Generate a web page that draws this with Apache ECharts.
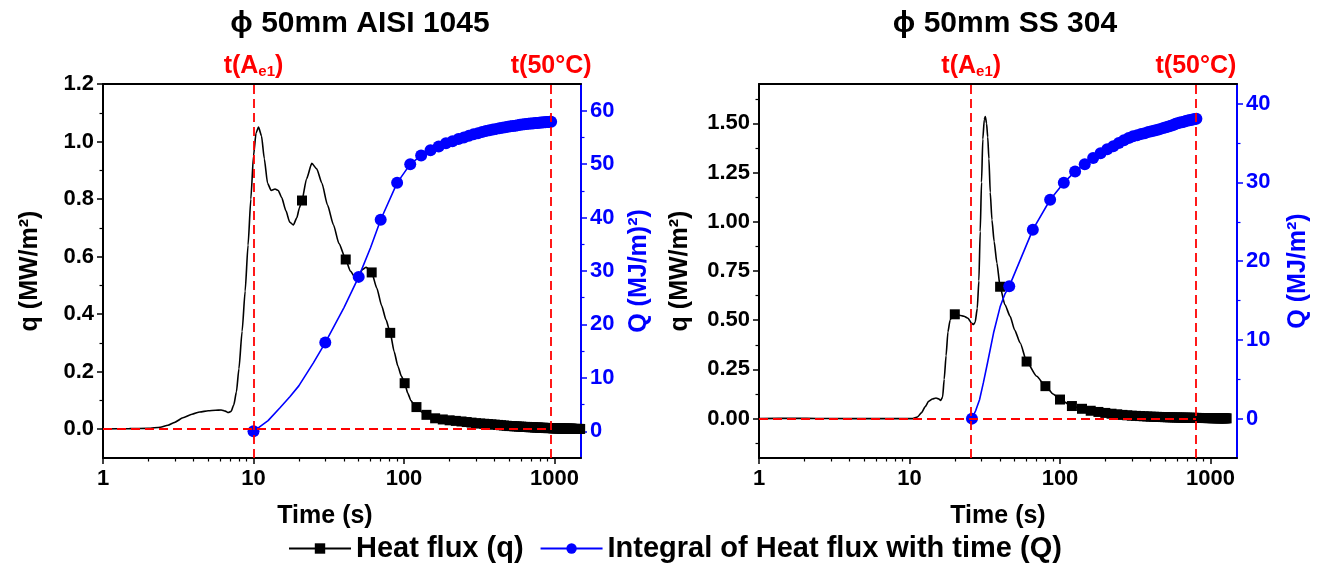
<!DOCTYPE html>
<html><head><meta charset="utf-8">
<script src="https://cdn.jsdelivr.net/npm/echarts@6/dist/echarts.min.js"></script>
<style>html,body{margin:0;padding:0;background:#fff}#c{width:1327px;height:567px}</style>
</head><body><div id="c"></div>
<script>
const FONT = 'Liberation Sans, Arial, Helvetica, sans-serif';
const titles = ['\u03d5 50mm AISI 1045', '\u03d5 50mm SS 304'];
const seriesNames = ['Heat flux (q)', 'Integral of Heat flux with time (Q)'];
const xName = 'Time (s)';
const qNames = ['q (MW/m\u00b2)', 'q (MW/m\u00b2)'];
const QNames = ['Q (MJ/m)\u00b2)', 'Q (MJ/m\u00b2)'];
const xMajorTicks = [1, 10, 100, 1000];
const xMinorTicks = [2,3,4,5,6,7,8,9,20,30,40,50,60,70,80,90,200,300,400,500,600,700,800,900];

// left chart axes
const leftQTicks = [0, 0.2, 0.4, 0.6, 0.8, 1.0, 1.2];
const leftQMinor = [0.1, 0.3, 0.5, 0.7, 0.9, 1.1];
const leftBigQTicks = [0, 10, 20, 30, 40, 50, 60];
const leftBigQMinor = [5, 15, 25, 35, 45, 55];
// right chart axes
const rightQTicks = [0, 0.25, 0.5, 0.75, 1.0, 1.25, 1.5];
const rightQMinor = [-0.125, 0.125, 0.375, 0.625, 0.875, 1.125, 1.375, 1.625];
const rightBigQTicks = [0, 10, 20, 30, 40];
const rightBigQMinor = [5, 15, 25, 35];

// event times (s)
const leftTAe1 = 10, leftT50 = 950;
const rightTAe1 = 25.7, rightT50 = 800;

// ---- LEFT: AISI 1045 ----
const leftFluxCurve = [
 [1,0.001],[1.5,0.002],[2,0.003],[2.4,0.007],[2.7,0.014],[3.0,0.024],[3.4,0.04],[3.9,0.052],[4.4,0.06],
 [5.0,0.064],[5.6,0.066],[6.1,0.067],[6.5,0.063],[6.8,0.058],[7.1,0.062],[7.4,0.085],[7.7,0.13],[8.0,0.21],
 [8.4,0.34],[8.8,0.48],[9.2,0.64],[9.6,0.8],[10.0,0.95],[10.4,1.03],[10.8,1.05],[11.3,1.02],[11.8,0.94],
 [12.4,0.855],[13.1,0.83],[13.9,0.835],[14.6,0.83],[15.4,0.805],[16.4,0.76],[17.4,0.72],[18.4,0.71],
 [19.4,0.735],[20.2,0.77],[22.5,0.87],[24.4,0.924],[26.3,0.905],[28.5,0.855],[31,0.78],[34,0.71],[37,0.645],
 [44,0.55],[47,0.53],[50,0.535],[53,0.555],[56,0.563],[58.5,0.555],[66,0.49],[71,0.43],[76,0.38],
 [86,0.27],[91,0.22],[96,0.185],[106,0.125],[111,0.1],[116,0.088],[131,0.06]
];
const leftFluxMarks = [
 [21,0.795],[41,0.59],[61,0.545],[81,0.335],[101,0.16],[121,0.077],[141,0.05],[161,0.038],[181,0.034],[201,0.031],
 [221,0.029],[241,0.027],[261,0.025],[281,0.023],[301,0.021],[321,0.020],[341,0.019],[361,0.018],[381,0.017],[401,0.016],
 [421,0.015],[441,0.014],[461,0.013],[481,0.012],[501,0.011],[521,0.011],[541,0.010],[561,0.010],[581,0.009],[601,0.009],
 [621,0.008],[641,0.008],[661,0.008],[681,0.007],[701,0.007],[721,0.007],[741,0.006],[761,0.006],[781,0.006],[801,0.005],
 [821,0.005],[841,0.005],[861,0.005],[881,0.004],[901,0.004],[921,0.004],[941,0.004],[961,0.004],[981,0.003],[1001,0.003],
 [1021,0.003],[1041,0.003],[1061,0.003],[1081,0.003],[1101,0.003],[1121,0.002],[1141,0.002],[1161,0.002],[1181,0.002],[1201,0.002],
 [1221,0.002],[1241,0.002],[1261,0.002],[1281,0.002],[1301,0.002],[1321,0.001],[1341,0.001],[1361,0.001],[1381,0.001],[1401,0.001],
 [1421,0.001],[1441,0.001],[1461,0.001],[1481,0.001]
];
const leftIntCurve = [[12.5,2.0],[15,4.4],[17.5,6.5],[20,8.5],[25,12.8],[40,23.2],[60,34.4]];
const leftIntMarks = [
 [10,0],[30,16.6],[50,28.9],[70,39.6],[90,46.5],[110,50.0],[130,51.6],[150,52.6],[170,53.3],[190,53.9],
 [210,54.3],[230,54.7],[250,55.0],[270,55.3],[290,55.6],[310,55.8],[330,56.0],[350,56.2],[370,56.35],[390,56.5],
 [410,56.6],[430,56.7],[450,56.8],[470,56.9],[490,57.0],[510,57.1],[530,57.15],[550,57.2],[570,57.3],[590,57.35],
 [610,57.4],[630,57.45],[650,57.5],[670,57.55],[690,57.6],[710,57.62],[730,57.65],[750,57.7],[770,57.72],[790,57.75],
 [810,57.78],[830,57.8],[850,57.83],[870,57.85],[890,57.88],[910,57.9],[930,57.93],[950,57.95]
];

// ---- RIGHT: SS 304 ----
const rightFluxCurve = [
 [1,0],[1.8,0.002],[2.4,0.001],[4,0],[8,0],[10.5,0],[11.3,0.008],[12.0,0.03],[12.7,0.06],[13.4,0.088],
 [14.2,0.1],[15.0,0.105],[15.7,0.1],[16.1,0.092],[16.6,0.11],[17.0,0.2],[17.5,0.32],[18.0,0.44],[18.6,0.5],
 [19.3,0.525],[21.5,0.525],[23,0.52],[24.5,0.51],[25.8,0.485],[26.6,0.478],[27.3,0.49],[28.2,0.56],[28.9,0.7],
 [29.5,0.95],[30.1,1.2],[30.7,1.42],[31.4,1.52],[31.9,1.535],[32.5,1.5],[33.1,1.43],[33.7,1.32],[34.4,1.15],
 [35.3,1.01],[36.5,0.9],[38.1,0.79],[43,0.58],[46.6,0.52],[50,0.45],[54.4,0.384],[70,0.215],[90,0.125]
];
const rightFluxMarks = [
 [20,0.53],[40,0.67],[60,0.29],[80,0.165],[100,0.097],[120,0.064],[140,0.05],[160,0.04],[180,0.034],[200,0.029],
 [220,0.025],[240,0.022],[260,0.019],[280,0.017],[300,0.015],[320,0.014],[340,0.013],[360,0.012],[380,0.011],[400,0.010],
 [420,0.0095],[440,0.009],[460,0.0085],[480,0.008],[500,0.0075],[520,0.007],[540,0.0068],[560,0.0065],[580,0.006],[600,0.0058],
 [620,0.0055],[640,0.0052],[660,0.005],[680,0.0048],[700,0.0046],[720,0.0044],[740,0.0042],[760,0.004],[780,0.0038],[800,0.0036],
 [820,0.0035],[840,0.0034],[860,0.0033],[880,0.0032],[900,0.0031],[920,0.003],[940,0.0029],[960,0.0028],[980,0.0027],[1000,0.0026],
 [1020,0.0025],[1040,0.0024],[1060,0.0023],[1080,0.0022],[1100,0.0021],[1120,0.002],[1140,0.002],[1160,0.0019],[1180,0.0018],[1200,0.0018],
 [1220,0.0017],[1240,0.0016],[1260,0.0016],[1280,0.0015]
];
const rightIntCurve = [[27.5,1.0],[29.2,2.4],[31,4.6],[33,7.1],[36.2,10.9],[40,14.2],[43,15.8]];
const rightIntMarks = [
 [26,0],[46,16.8],[66,24.0],[86,27.8],[106,29.95],[126,31.4],[146,32.3],[166,33.1],[186,33.7],[206,34.2],
 [226,34.6],[246,35.0],[266,35.35],[286,35.65],[306,35.85],[326,36.0],[346,36.15],[366,36.25],[386,36.4],[406,36.5],
 [426,36.6],[446,36.7],[466,36.8],[486,36.9],[506,37.0],[526,37.1],[546,37.2],[566,37.3],[586,37.45],[606,37.5],
 [626,37.6],[646,37.65],[666,37.7],[686,37.8],[706,37.85],[726,37.9],[746,37.95],[766,38.0],[786,38.05],[806,38.1]
];

const BLACK = '#000000', BLUE = '#0000ff', RED = '#ff0000';

function merge(curve, marks) {
  const pts = curve.map(p => ({ value: p, symbol: 'none' })).concat(marks.map(p => ({ value: p })));
  pts.sort((a, b) => a.value[0] - b.value[0]);
  return pts;
}

const nameStyle = (color) => ({ color: color, fontSize: 25, fontWeight: 'bold', fontFamily: FONT });
const labelStyle = (color) => ({ color: color, fontSize: 22, fontWeight: 'bold', fontFamily: FONT });

function makeXAxes(g, namePad) {
  const common = { type: 'log', logBase: 10, gridIndex: g, min: 1, max: 1500, splitLine: { show: false }, minorTick: { show: false }, minorSplitLine: { show: false } };
  return [
    Object.assign({}, common, {
      position: 'bottom',
      axisLine: { show: true, onZero: false, lineStyle: { color: BLACK, width: 2 } },
      axisTick: { show: true, inside: false, length: 6, customValues: xMajorTicks, lineStyle: { color: BLACK, width: 1.5 } },
      axisLabel: Object.assign({ customValues: xMajorTicks, margin: 10, formatter: v => String(Math.round(v)) }, labelStyle(BLACK)),
      name: xName, nameLocation: 'middle', nameGap: 46,
      nameTextStyle: Object.assign({ padding: namePad }, nameStyle(BLACK))
    }),
    Object.assign({}, common, {
      position: 'bottom',
      axisLine: { show: false, onZero: false },
      axisTick: { show: true, inside: false, length: 3.5, customValues: xMinorTicks, lineStyle: { color: BLACK, width: 1.2 } },
      axisLabel: { show: false }
    }),
    Object.assign({}, common, {
      position: 'top',
      axisLine: { show: true, onZero: false, lineStyle: { color: BLACK, width: 2 } },
      axisTick: { show: false }, axisLabel: { show: false }
    })
  ];
}

function makeYAxes(g, cfg) {
  const base = { type: 'value', gridIndex: g, splitLine: { show: false }, minorTick: { show: false } };
  return [
    Object.assign({}, base, {
      position: 'left', min: cfg.qMin, max: cfg.qMax,
      axisLine: { show: true, onZero: false, lineStyle: { color: BLACK, width: 2 } },
      axisTick: { show: true, length: 6, customValues: cfg.qTicks, lineStyle: { color: BLACK, width: 1.5 } },
      axisLabel: Object.assign({ customValues: cfg.qTicks, margin: 9, formatter: v => Number(v).toFixed(cfg.qDec) }, labelStyle(BLACK)),
      name: cfg.qName, nameLocation: 'middle', nameRotate: 90, nameGap: cfg.qGap, nameTextStyle: nameStyle(BLACK)
    }),
    Object.assign({}, base, {
      position: 'left', min: cfg.qMin, max: cfg.qMax,
      axisLine: { show: false, onZero: false },
      axisTick: { show: true, length: 3.5, customValues: cfg.qMinor, lineStyle: { color: BLACK, width: 1.2 } },
      axisLabel: { show: false }
    }),
    Object.assign({}, base, {
      position: 'right', min: cfg.QMin, max: cfg.QMax,
      axisLine: { show: true, onZero: false, lineStyle: { color: BLUE, width: 2 } },
      axisTick: { show: true, length: 6, customValues: cfg.QTicks, lineStyle: { color: BLUE, width: 1.5 } },
      axisLabel: Object.assign({ customValues: cfg.QTicks, margin: 9 }, labelStyle(BLUE)),
      name: cfg.QName, nameLocation: 'middle', nameRotate: 90, nameGap: cfg.QGap, nameTextStyle: nameStyle(BLUE)
    }),
    Object.assign({}, base, {
      position: 'right', min: cfg.QMin, max: cfg.QMax,
      axisLine: { show: false, onZero: false },
      axisTick: { show: true, length: 3.5, customValues: cfg.QMinor, lineStyle: { color: BLUE, width: 1.2 } },
      axisLabel: { show: false }
    })
  ];
}

const redRich = {
  a: { color: RED, fontSize: 25, fontWeight: 'bold', fontFamily: FONT, lineHeight: 30 },
  s: { color: RED, fontSize: 15, fontWeight: 'bold', fontFamily: FONT, lineHeight: 30, padding: [12, 0, 0, 0] }
};

function markLines(tAe1, t50) {
  const ls = { color: RED, type: [9, 5], width: 1.8 };
  return {
    silent: true, symbol: ['none', 'none'], animation: false,
    lineStyle: ls,
    data: [
      { xAxis: tAe1, label: { show: true, position: 'end', distance: 3, formatter: '{a|t(A}{s|e1}{a|)}', rich: redRich } },
      { xAxis: t50, label: { show: true, position: 'end', distance: 3, formatter: '{a|t(50\u00b0C)}', rich: redRich } },
      [{ coord: [1, 0], label: { show: false } }, { coord: [t50, 0] }]
    ]
  };
}

function fluxSeries(xi, yi, curve, marks, tAe1, t50) {
  return {
    name: seriesNames[0], type: 'line', xAxisIndex: xi, yAxisIndex: yi,
    data: merge(curve, marks), smooth: 0.2, smoothMonotone: 'x',
    symbol: 'rect', symbolSize: 10, showSymbol: true,
    lineStyle: { color: BLACK, width: 1.6 }, itemStyle: { color: BLACK },
    z: 3, markLine: markLines(tAe1, t50)
  };
}
function intSeries(xi, yi, curve, marks) {
  return {
    name: seriesNames[1], type: 'line', xAxisIndex: xi, yAxisIndex: yi,
    data: merge(curve, marks), smooth: false,
    symbol: 'circle', symbolSize: 12, showSymbol: true,
    lineStyle: { color: BLUE, width: 1.6 }, itemStyle: { color: BLUE },
    z: 4
  };
}

const chart = echarts.init(document.getElementById('c'), null, { renderer: 'canvas' });
chart.setOption({
  animation: false,
  backgroundColor: '#ffffff',
  title: [
    { text: titles[0], left: 355, top: 4, textAlign: 'center', textStyle: { fontSize: 30, fontWeight: 'bold', color: BLACK, fontFamily: FONT } },
    { text: titles[1], left: 1000, top: 4, textAlign: 'center', textStyle: { fontSize: 30, fontWeight: 'bold', color: BLACK, fontFamily: FONT } }
  ],
  legend: {
    data: seriesNames, left: 283, top: 529, itemWidth: 62, itemHeight: 13, itemGap: 16,
    textStyle: { fontSize: 29, fontWeight: 'bold', color: BLACK, fontFamily: FONT }
  },
  grid: [
    { left: 103, right: 746, top: 84, bottom: 109 },
    { left: 759, right: 90, top: 84, bottom: 109 }
  ],
  xAxis: makeXAxes(0, [0, 34, 0, 0]).concat(makeXAxes(1, [0, 0, 0, 0])),
  yAxis: makeYAxes(0, {
    qMin: -0.1, qMax: 1.2, qTicks: leftQTicks, qMinor: leftQMinor, qDec: 1, qName: qNames[0], qGap: 60,
    QMin: -5, QMax: 65, QTicks: leftBigQTicks, QMinor: leftBigQMinor, QName: QNames[0], QGap: 46
  }).concat(makeYAxes(1, {
    qMin: -0.2, qMax: 1.7, qTicks: rightQTicks, qMinor: rightQMinor, qDec: 2, qName: qNames[1], qGap: 66,
    QMin: -5, QMax: 42.5, QTicks: rightBigQTicks, QMinor: rightBigQMinor, QName: QNames[1], QGap: 49
  })),
  series: [
    fluxSeries(0, 0, leftFluxCurve, leftFluxMarks, leftTAe1, leftT50),
    intSeries(0, 2, leftIntCurve, leftIntMarks),
    fluxSeries(3, 4, rightFluxCurve, rightFluxMarks, rightTAe1, rightT50),
    intSeries(3, 6, rightIntCurve, rightIntMarks)
  ]
});
</script>
</body></html>
